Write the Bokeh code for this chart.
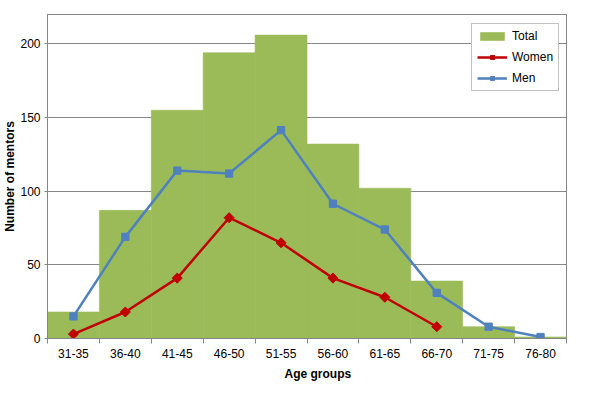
import math
from bokeh.plotting import figure
from bokeh.models import FixedTicker, Legend, LegendItem, Range1d, Title
from bokeh.embed import file_html
from bokeh.resources import INLINE

categories = ["31-35", "36-40", "41-45", "46-50", "51-55", "56-60", "61-65", "66-70", "71-75", "76-80"]
total = [18, 87, 155, 194, 206, 132, 102, 39, 8, 1]
women = [3, 18, 41, 82, 65, 41, 28, 8]
men = [15, 69, 114, 112, 141.5, 91.5, 74, 31, 8, 1]
y_ticks = [0, 50, 100, 150, 200]

FONT = "Liberation Sans"
GRAY = "#868686"
GREEN = "#9BBB59"
RED = "#C00000"
BLUE = "#4F81BD"

xs = list(range(len(categories)))

p = figure(width=585, height=386, output_backend="svg", toolbar_location=None,
           x_range=Range1d(-0.5, len(categories) - 0.5), y_range=Range1d(0, 220),
           min_border_left=46, min_border_right=19, min_border_top=14, min_border_bottom=48)

bars = p.vbar(x=xs, top=total, width=1, fill_color=GREEN, line_color=GREEN, line_width=0.6)
ml = p.line(xs[:len(men)], men, line_color=BLUE, line_width=2.5)
mm = p.scatter(xs[:len(men)], men, marker="square", size=7.3, fill_color=BLUE, line_color=BLUE)
wl = p.line(xs[:len(women)], women, line_color=RED, line_width=2.5)
wm = p.scatter(xs[:len(women)], women, marker="square", size=7.1, angle=math.pi / 4,
               fill_color=RED, line_color=RED)

# axes
p.xaxis.ticker = FixedTicker(ticks=xs, minor_ticks=[i - 0.5 for i in range(len(categories) + 1)])
p.xaxis.major_label_overrides = {i: c for i, c in enumerate(categories)}
p.xaxis.major_tick_line_color = None
p.xaxis.major_tick_out = 4
p.xaxis.major_tick_in = 0
p.xaxis.minor_tick_out = 5
p.xaxis.minor_tick_in = 0
p.xaxis.minor_tick_line_color = GRAY
p.xaxis.major_label_standoff = 5

p.yaxis.ticker = FixedTicker(ticks=y_ticks)
p.yaxis.major_tick_out = 3
p.yaxis.major_tick_in = 0
p.yaxis.major_tick_line_color = GRAY
p.yaxis.minor_tick_line_color = None
p.yaxis.major_label_standoff = 4
p.yaxis.axis_label = "Number of mentors"
p.yaxis.axis_label_standoff = 0
p.yaxis.axis_label_text_font = FONT
p.yaxis.axis_label_text_font_size = "12px"
p.yaxis.axis_label_text_font_style = "bold"
p.yaxis.axis_label_text_color = "black"

for ax in (p.xaxis, p.yaxis):
    ax.axis_line_color = GRAY
    ax.major_label_text_font = FONT
    ax.major_label_text_font_size = "12px"
    ax.major_label_text_color = "black"

p.xgrid.visible = False
p.ygrid.ticker = FixedTicker(ticks=y_ticks)
p.ygrid.grid_line_color = GRAY
p.outline_line_color = GRAY
p.background_fill_color = "white"
p.border_fill_color = "white"

# x axis title
p.add_layout(Title(text="Age groups", align="left", offset=237, standoff=9,
                   text_font=FONT, text_font_size="12px", text_font_style="bold",
                   text_color="black"), "below")

legend = Legend(items=[LegendItem(label="Total", renderers=[bars]),
                       LegendItem(label="Women", renderers=[wl, wm]),
                       LegendItem(label="Men", renderers=[ml, mm])],
                location=(424, 247), orientation="vertical",
                glyph_width=30, glyph_height=10, label_height=14, label_standoff=5,
                spacing=7, padding=5, margin=0,
                label_text_font=FONT, label_text_font_size="12px", label_text_color="black",
                border_line_color=GRAY, border_line_width=1, background_fill_color="white",
                background_fill_alpha=1)
p.add_layout(legend)

open("out.html", "w").write(file_html(p, INLINE))
